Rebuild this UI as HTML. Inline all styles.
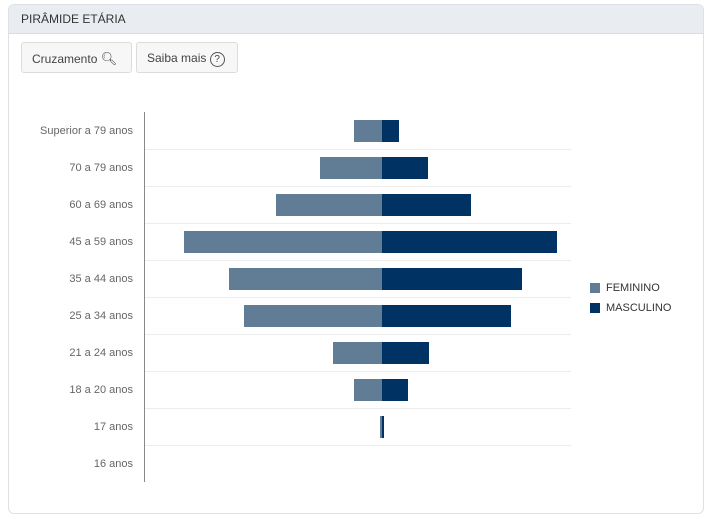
<!DOCTYPE html><html><head><style>
body{margin:0;background:#fff;font-family:"Liberation Sans",sans-serif;}
.card{position:absolute;left:8px;top:4px;width:694px;height:508px;border:1px solid #dde1e6;border-radius:6px;background:#fff;overflow:hidden}
.hd{height:28px;background:#e9edf1;border-bottom:1px solid #d8dde3;font-size:12px;color:#333;line-height:29px;padding-left:12px}
.btn{position:absolute;top:37px;height:31px;border:1px solid #dcdcdc;border-radius:3px;background:#f7f7f7;font-size:12px;color:#444;line-height:31px;box-sizing:border-box;padding-left:10px}
.lbl{position:absolute;right:577px;font-size:11px;color:#666;text-align:right;white-space:nowrap}
.g{position:absolute;left:145px;width:426px;height:1px;background:#ececec}
.b{position:absolute;height:22px}
.f{background:#617d96}.m{background:#003263}
</style></head><body>
<div class="card"><div class="hd">PIRÂMIDE ETÁRIA</div>
<div class="btn" style="left:12px;width:111px">Cruzamento <span style="font-size:13px">&#x1F50D;&#xFE0E;</span></div>
<div class="btn" style="left:127px;width:102px">Saiba mais <span style="display:inline-block;width:13px;height:13px;border:1px solid #555;border-radius:50%;text-align:center;line-height:13px;font-size:10px">?</span></div>
</div>
<div style="position:absolute;left:144px;top:112px;width:1px;height:370px;background:#888"></div>
<div class="g" style="top:149px"></div><div class="g" style="top:186px"></div><div class="g" style="top:223px"></div><div class="g" style="top:260px"></div><div class="g" style="top:297px"></div><div class="g" style="top:334px"></div><div class="g" style="top:371px"></div><div class="g" style="top:408px"></div><div class="g" style="top:445px"></div>
<div class="lbl" style="top:125px">Superior a 79 anos</div>
<div class="lbl" style="top:162px">70 a 79 anos</div>
<div class="lbl" style="top:199px">60 a 69 anos</div>
<div class="lbl" style="top:236px">45 a 59 anos</div>
<div class="lbl" style="top:273px">35 a 44 anos</div>
<div class="lbl" style="top:310px">25 a 34 anos</div>
<div class="lbl" style="top:347px">21 a 24 anos</div>
<div class="lbl" style="top:384px">18 a 20 anos</div>
<div class="lbl" style="top:421px">17 anos</div>
<div class="lbl" style="top:458px">16 anos</div>
<div class="b f" style="top:120px;left:354px;width:28px"></div><div class="b m" style="top:120px;left:382px;width:17px"></div>
<div class="b f" style="top:157px;left:320px;width:62px"></div><div class="b m" style="top:157px;left:382px;width:46px"></div>
<div class="b f" style="top:194px;left:276px;width:106px"></div><div class="b m" style="top:194px;left:382px;width:89px"></div>
<div class="b f" style="top:231px;left:184px;width:198px"></div><div class="b m" style="top:231px;left:382px;width:175px"></div>
<div class="b f" style="top:268px;left:229px;width:153px"></div><div class="b m" style="top:268px;left:382px;width:140px"></div>
<div class="b f" style="top:305px;left:244px;width:138px"></div><div class="b m" style="top:305px;left:382px;width:129px"></div>
<div class="b f" style="top:342px;left:333px;width:49px"></div><div class="b m" style="top:342px;left:382px;width:47px"></div>
<div class="b f" style="top:379px;left:354px;width:28px"></div><div class="b m" style="top:379px;left:382px;width:26px"></div>
<div class="b f" style="top:416px;left:380px;width:2px"></div><div class="b m" style="top:416px;left:382px;width:2px"></div>
<div class="b f" style="top:283px;left:590px;width:10px;height:10px"></div>
<div style="position:absolute;left:606px;top:282px;font-size:11px;color:#333">FEMININO</div>
<div class="b m" style="top:303px;left:590px;width:10px;height:10px"></div>
<div style="position:absolute;left:606px;top:302px;font-size:11px;color:#333">MASCULINO</div>
</body></html>
